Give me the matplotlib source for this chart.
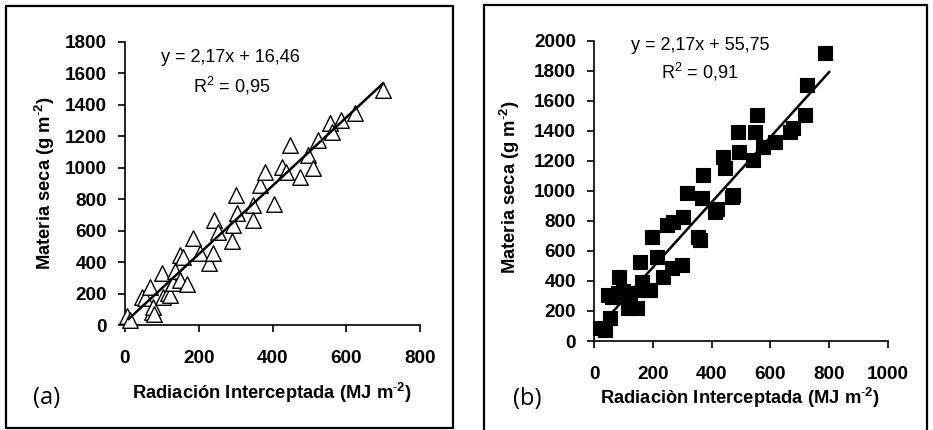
import matplotlib
matplotlib.use('Agg')
import matplotlib.pyplot as plt
import numpy as np
from matplotlib.patches import Rectangle

plt.rcParams['font.family'] = ['Liberation Sans', 'DejaVu Sans']
plt.rcParams['mathtext.fontset'] = 'custom'
plt.rcParams['mathtext.rm'] = 'Liberation Sans'
plt.rcParams['mathtext.bf'] = 'Liberation Sans:bold'

# panel (a) - triangles
xa = [5, 14, 45, 54, 68, 72, 77, 79, 100, 104, 117, 122, 131, 136, 149, 149, 156, 167,
      185, 203, 229, 238, 240, 253, 290, 294, 300, 303, 346, 348, 366, 380, 404, 425,
      437, 447, 475, 497, 511, 524, 556, 560, 585, 624, 701]
ya = [55, 30, 175, 172, 244, 85, 117, 70, 329, 180, 201, 190, 267, 345, 286, 445, 430, 262,
      551, 456, 392, 456, 668, 593, 535, 636, 827, 710, 763, 668, 890, 975, 770, 1006,
      974, 1143, 942, 1080, 995, 1175, 1281, 1228, 1302, 1345, 1493]
slope_a, icpt_a = 2.17, 16.46
fit_a = [10, 700]

# panel (b) - squares
xb = [20, 38, 54, 49, 60, 86, 83, 100, 122, 117, 145, 156, 162, 170, 190, 196, 213, 236,
      247, 264, 270, 298, 304, 315, 355, 360, 366, 371, 412, 420, 439, 445, 468, 474,
      490, 494, 541, 547, 553, 575, 615, 666, 677, 717, 723, 785]
yb = [84, 75, 151, 306, 295, 428, 318, 330, 318, 218, 218, 528, 395, 340, 340, 695, 561, 428,
      773, 484, 794, 506, 828, 983, 695, 673, 950, 1104, 861, 880, 1227, 1149, 960, 972,
      1393, 1260, 1204, 1393, 1504, 1293, 1327, 1393, 1416, 1504, 1704, 1915]
slope_b, icpt_b = 2.17, 55.75
fit_b = [50, 800]

W, H = 933, 430
fig = plt.figure(figsize=(W / 100, H / 100), dpi=100)


def px_axes(x0, y_top, x1, y_bot):
    return fig.add_axes([x0 / W, 1 - y_bot / H, (x1 - x0) / W, (y_bot - y_top) / H])


def style(ax, xmax, ymax, step_x, step_y):
    ax.set_xlim(0, xmax)
    ax.set_ylim(0, ymax)
    ax.set_xticks(np.arange(0, xmax + 1, step_x))
    ax.set_yticks(np.arange(0, ymax + 1, step_y))
    for s in ['top', 'right']:
        ax.spines[s].set_visible(False)
    for s in ['left', 'bottom']:
        ax.spines[s].set_linewidth(1.2)
    ax.tick_params(direction='out', length=5, width=1.2, labelsize=13.6)
    ax.tick_params(axis='x', pad=13)
    ax.tick_params(axis='y', pad=8)
    for lab in ax.get_xticklabels() + ax.get_yticklabels():
        lab.set_fontweight('bold')


# frames
fig.patches.append(Rectangle((6 / W, 1 - 428 / H), 447 / W, 422 / H, transform=fig.transFigure,
                             fill=False, lw=1.6, ec='black'))
fig.patches.append(Rectangle((484 / W, -0.05), 443 / W, 1 - 5 / H + 0.05, transform=fig.transFigure,
                             fill=False, lw=1.6, ec='black'))

sup = r'$^{\mathbf{\text{-}2}}$'
ylab = 'Materia seca (g m' + sup + ')'

# panel a
ax1 = px_axes(125, 41.7, 420, 325)
ax1.scatter(xa, ya, marker='^', s=125, facecolor='white', edgecolor='black', linewidth=1,
            clip_on=False, zorder=3)
xx = np.array(fit_a)
ax1.plot(xx, slope_a * xx + icpt_a, color='black', lw=1.8, zorder=4, clip_on=False)
style(ax1, 800, 1800, 200, 200)
fig.text(230 / W, 1 - 58 / H, 'y = 2,17x + 16,46', ha='center', va='center', fontsize=13)
fig.text(232 / W, 1 - 86 / H, r'R$^{\mathrm{2}}$ = 0,95', ha='center', va='center', fontsize=13)
fig.text(45 / W, 1 - 183 / H, ylab, rotation=90,
         ha='center', va='center', fontsize=13.2, fontweight='bold')
fig.text(272 / W, 1 - 393 / H, 'Radiación Interceptada (MJ m' + sup + ')',
         ha='center', va='center', fontsize=13.2, fontweight='bold')
fig.text(47 / W, 1 - 398 / H, '(a)', ha='center', va='center', fontsize=17,
         family=['Open Sans', 'DejaVu Sans'])

# panel b
ax2 = px_axes(594, 40.7, 888, 341)
ax2.scatter(xb, yb, marker='s', s=95, facecolor='black', edgecolor='black', linewidth=0.8,
            clip_on=False, zorder=3)
xx = np.array(fit_b)
ax2.plot(xx, slope_b * xx + icpt_b, color='black', lw=1.8, zorder=4)
style(ax2, 1000, 2000, 200, 200)
fig.text(700 / W, 1 - 45 / H, 'y = 2,17x + 55,75', ha='center', va='center', fontsize=13)
fig.text(700 / W, 1 - 72 / H, r'R$^{\mathrm{2}}$ = 0,91', ha='center', va='center', fontsize=13)
fig.text(510 / W, 1 - 187 / H, ylab, rotation=90,
         ha='center', va='center', fontsize=13.2, fontweight='bold')
fig.text(740 / W, 1 - 398 / H, 'Radiaciòn Interceptada (MJ m' + sup + ')',
         ha='center', va='center', fontsize=13.2, fontweight='bold')
fig.text(527 / W, 1 - 399 / H, '(b)', ha='center', va='center', fontsize=17,
         family=['Open Sans', 'DejaVu Sans'])

fig.savefig('out.png', dpi=100)
